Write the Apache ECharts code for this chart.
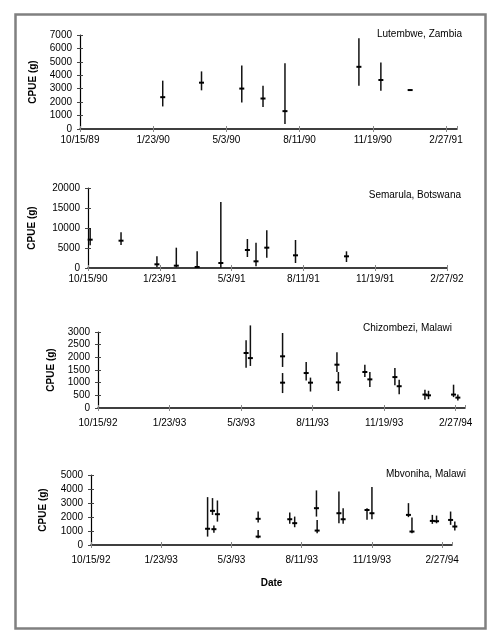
<!DOCTYPE html>
<html>
<head>
<meta charset="utf-8">
<script src="https://cdn.jsdelivr.net/npm/echarts@6/dist/echarts.min.js"></script>
<style>
  html, body { margin: 0; padding: 0; background: #fff; }
  #main { width: 500px; height: 641px; }
</style>
</head>
<body>
<div id="main"></div>
<script>
// panel sites
var sites = ['Lutembwe, Zambia', 'Semarula, Botswana', 'Chizombezi, Malawi', 'Mbvoniha, Malawi'];
// first tick date of each x axis (ticks every 100 days)
var axisStart = ['1989-10-15', '1990-10-15', '1992-10-15', '1992-10-15'];

// Lutembwe
var dates1 = ['1990-02-05', '1990-03-30', '1990-05-24', '1990-06-22', '1990-07-22', '1990-10-31', '1990-11-30', '1991-01-09'];
var mean1 = [2370, 3450, 3010, 2270, 1330, 4630, 3650, 2900];
var low1  = [1680, 2880, 1970, 1630, 370, 3230, 2840, 2870];
var high1 = [3600, 4290, 4730, 3230, 4900, 6750, 4950, 2930];

// Semarula
var dates2 = ['1990-10-18', '1990-11-30', '1991-01-19', '1991-02-15', '1991-03-16', '1991-04-18', '1991-05-25', '1991-06-06', '1991-06-21', '1991-07-31', '1991-10-10'];
var mean2 = [7080, 6830, 920, 580, 250, 1250, 4500, 1670, 5080, 3170, 2920];
var low2  = [5670, 5750, 250, 170, 0, 80, 2750, 420, 2580, 1250, 1500];
var high2 = [10000, 8920, 2920, 5080, 4170, 16500, 7250, 6330, 9420, 7000, 4170];

// Chizombezi
var dates3 = ['1993-05-10', '1993-05-16', '1993-06-30', '1993-06-30', '1993-08-02', '1993-08-08', '1993-09-14', '1993-09-16', '1993-10-23', '1993-10-30', '1993-12-04', '1993-12-10', '1994-01-15', '1994-01-20', '1994-02-24', '1994-03-02'];
var mean3 = [2170, 1970, 2040, 1000, 1380, 1000, 1710, 1010, 1420, 1130, 1220, 860, 530, 500, 530, 410];
var low3  = [1590, 1660, 1620, 590, 1090, 650, 1420, 670, 1220, 830, 900, 540, 330, 350, 430, 300];
var high3 = [2670, 3260, 2960, 1380, 1820, 1200, 2200, 1420, 1710, 1420, 1580, 1120, 720, 680, 920, 530];

// Mbvoniha
var dates4 = ['1993-03-30', '1993-04-06', '1993-04-08', '1993-04-13', '1993-06-10', '1993-06-10', '1993-07-25', '1993-08-01', '1993-09-01', '1993-09-02', '1993-10-03', '1993-10-09', '1993-11-12', '1993-11-19', '1994-01-10', '1994-01-15', '1994-02-13', '1994-02-19', '1994-03-11', '1994-03-17'];
var mean4 = [1160, 2440, 1130, 2200, 1870, 600, 1840, 1560, 2630, 1030, 2270, 1840, 2500, 2270, 2150, 960, 1720, 1700, 1790, 1320];
var low4  = [600, 2150, 880, 1670, 1600, 480, 1510, 1270, 2030, 840, 1560, 1510, 1800, 1840, 1990, 840, 1510, 1550, 1440, 1030];
var high4 = [3420, 3350, 1390, 3180, 2390, 1080, 2320, 2030, 3900, 1790, 3830, 2630, 2630, 4150, 2990, 1960, 2150, 2100, 2390, 1670];

var yMax = [7000, 20000, 3000, 5000];
var yStep = [1000, 5000, 500, 1000];
var xMax = [515, 500, 513, 514];

var grids = [
  { left: 80, top: 35, width: 377, height: 94 },
  { left: 88, top: 188, width: 359, height: 80 },
  { left: 98, top: 332, width: 367, height: 76 },
  { left: 91, top: 475, width: 361, height: 70 }
];
var nameGaps = [42, 51, 42, 43];
var labelMargins = [6, 6, 10, 10];
var titlePos = [
  { right: 33, top: 24 }, { right: 34, top: 185 }, { right: 43, top: 318 }, { right: 29, top: 464 }
];

var font = 'Liberation Sans, Arial, sans-serif';
var DAY = 86400000;

function toDay(start, d) {
  return Math.round((Date.parse(d) - Date.parse(start)) / DAY);
}

function dateLabel(start, v) {
  var d = new Date(Date.parse(start) + v * DAY);
  var yy = String(d.getUTCFullYear() % 100);
  if (yy.length < 2) yy = '0' + yy;
  return (d.getUTCMonth() + 1) + '/' + d.getUTCDate() + '/' + yy;
}

function buildData(i, dates, low, high, mean) {
  var out = [];
  for (var k = 0; k < dates.length; k++) {
    out.push([toDay(axisStart[i], dates[k]), low[k], high[k], mean[k]]);
  }
  return out;
}

var allData = [
  buildData(0, dates1, low1, high1, mean1),
  buildData(1, dates2, low2, high2, mean2),
  buildData(2, dates3, low3, high3, mean3),
  buildData(3, dates4, low4, high4, mean4)
];

function renderBars(params, api) {
  var x = api.value(0);
  var lo = api.coord([x, api.value(1)]);
  var hi = api.coord([x, api.value(2)]);
  var m = api.coord([x, api.value(3)]);
  return {
    type: 'group',
    children: [
      { type: 'line', shape: { x1: lo[0], y1: lo[1], x2: hi[0], y2: hi[1] },
        style: { stroke: '#111', lineWidth: 1.5 } },
      { type: 'line', shape: { x1: m[0] - 2.5, y1: m[1], x2: m[0] + 2.5, y2: m[1] },
        style: { stroke: '#000', lineWidth: 2 } }
    ]
  };
}

var xAxes = [], yAxes = [], series = [], titles = [];
for (var i = 0; i < 4; i++) {
  (function (i) {
    xAxes.push({
      type: 'value', gridIndex: i, min: 0, max: xMax[i], interval: 100,
      name: i === 3 ? 'Date' : '', nameLocation: 'middle', nameGap: 33,
      nameTextStyle: { fontFamily: font, fontSize: 10, fontWeight: 'bold', color: '#000' },
      axisLine: { lineStyle: { color: '#000', width: 1.5 } },
      axisTick: { length: 3, lineStyle: { color: '#888' } },
      axisLabel: { fontFamily: font, fontSize: 10, color: '#000', margin: labelMargins[i],
        showMaxLabel: xMax[i] % 100 === 0,
        formatter: function (v) { return dateLabel(axisStart[i], v); } },
      splitLine: { show: false }
    });
    yAxes.push({
      type: 'value', gridIndex: i, min: 0, max: yMax[i], interval: yStep[i],
      name: 'CPUE (g)', nameLocation: 'middle', nameGap: nameGaps[i], nameRotate: 90,
      nameTextStyle: { fontFamily: font, fontSize: 10, fontWeight: 'bold', color: '#000' },
      axisLine: { show: true, lineStyle: { color: '#000', width: 1.2 } },
      axisTick: { show: true, length: 3, lineStyle: { color: '#444' } },
      axisLabel: { fontFamily: font, fontSize: 10, color: '#000', margin: 8,
        formatter: function (v) { return String(v); } },
      splitLine: { show: false }
    });
    series.push({
      type: 'custom', xAxisIndex: i, yAxisIndex: i, clip: false,
      renderItem: renderBars, data: allData[i], silent: true
    });
    titles.push({
      text: sites[i], right: titlePos[i].right, top: titlePos[i].top,
      textStyle: { fontFamily: font, fontSize: 10, fontWeight: 'normal', color: '#000' }
    });
  })(i);
}
// inside ticks so they cross the axis lines
for (var j = 0; j < 4; j++) {
  xAxes.push({
    type: 'value', gridIndex: j, position: 'bottom', min: 0, max: xMax[j], interval: 100,
    axisLine: { show: false }, axisLabel: { show: false }, splitLine: { show: false },
    axisTick: { inside: true, length: 3, lineStyle: { color: '#888' } }
  });
  yAxes.push({
    type: 'value', gridIndex: j, position: 'left', min: 0, max: yMax[j], interval: yStep[j],
    axisLine: { show: false }, axisLabel: { show: false }, splitLine: { show: false },
    axisTick: { show: true, inside: true, length: 3, lineStyle: { color: '#444' } }
  });
}

var myChart = echarts.init(document.getElementById('main'));
myChart.setOption({
  animation: false,
  backgroundColor: '#fff',
  title: titles,
  grid: grids,
  xAxis: xAxes,
  yAxis: yAxes,
  series: series,
  graphic: [{
    type: 'rect', left: 13, top: 12,
    shape: { width: 470, height: 614 },
    style: { fill: 'none', stroke: '#808080', lineWidth: 2.5 }
  }]
});
</script>
</body>
</html>
